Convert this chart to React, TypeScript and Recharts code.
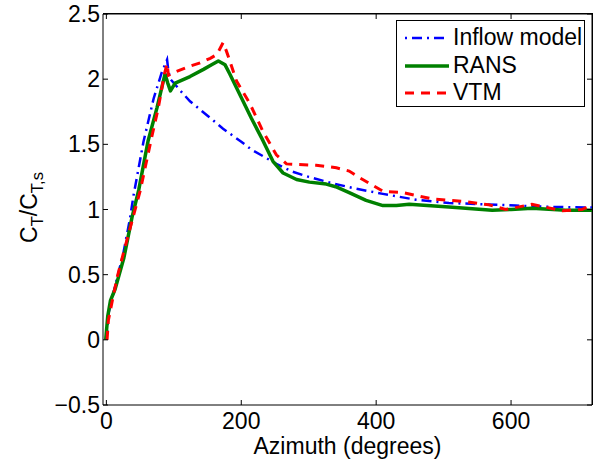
import React from 'react';
import { LineChart, Line, XAxis, YAxis, Legend, CartesianGrid } from 'recharts';

// ---- Data (azimuth in degrees, C_T / C_T,s) ----
const inflowX = [0, 3, 9, 25, 35, 40, 55, 70, 82, 90, 92, 95, 110, 124, 150, 173, 200, 215, 232, 252, 276, 300, 336, 370, 410, 459, 508, 560, 607, 660, 720];
const inflowY = [0, 0.2, 0.33, 0.66, 0.93, 1.1, 1.52, 1.85, 2.05, 2.15, 2.06, 2.0, 1.91, 1.83, 1.72, 1.62, 1.52, 1.46, 1.41, 1.35, 1.29, 1.25, 1.2, 1.16, 1.12, 1.075, 1.05, 1.04, 1.03, 1.02, 1.015];

const ransX = [-1, 2, 6, 13, 26, 38, 48, 62, 75, 87, 91, 95, 102, 124, 144, 156, 166, 176, 183, 198, 215, 232, 247, 262, 282, 301, 326, 340, 360, 385, 410, 430, 449, 508, 572, 600, 631, 681, 720];
const ransY = [0, 0.18, 0.3, 0.39, 0.63, 0.94, 1.15, 1.53, 1.78, 2.04, 1.97, 1.91, 1.97, 2.02, 2.075, 2.11, 2.14, 2.11, 2.04, 1.88, 1.7, 1.53, 1.37, 1.28, 1.23, 1.21, 1.195, 1.175, 1.13, 1.07, 1.03, 1.03, 1.04, 1.02, 0.995, 1.0, 1.01, 0.995, 0.995];

const vtmX = [1, 3, 8, 16, 26, 38, 50, 67, 77, 86, 90, 92, 104, 124, 139, 154, 164, 173, 178, 183, 193, 213, 232, 252, 267, 285, 311, 341, 360, 375, 410, 439, 484, 533, 567, 592, 631, 676, 705, 720];
const vtmY = [0, 0.15, 0.28, 0.48, 0.68, 0.91, 1.14, 1.55, 1.78, 2.04, 2.12, 2.03, 2.06, 2.1, 2.125, 2.16, 2.19, 2.28, 2.215, 2.14, 1.985, 1.81, 1.6, 1.42, 1.35, 1.345, 1.34, 1.32, 1.295, 1.245, 1.14, 1.13, 1.08, 1.06, 1.036, 1.0, 1.04, 0.99, 1.0, 1.036];

const xTicks = [0, 200, 400, 600];
const yTicks = [-0.5, 0, 0.5, 1, 1.5, 2, 2.5];
const xDomain = [-5, 720];
const yDomain = [-0.5, 2.5];

const seriesNames = ['Inflow model', 'RANS', 'VTM'];

const toPoints = (xs: number[], ys: number[]) => xs.map((x, i) => ({ x, y: ys[i] }));
const inflowData = toPoints(inflowX, inflowY);
const ransData = toPoints(ransX, ransY);
const vtmData = toPoints(vtmX, vtmY);

// ---- Layout / styles ----
const CHART_W = 593;
const CHART_H = 466;
const MARGIN = { top: 14, right: 1, bottom: 0, left: 0 };
const YAXIS_W = 103;
const XAXIS_H = 61;
const PLOT_TOP = MARGIN.top;
const PLOT_RIGHT = CHART_W - MARGIN.right;
const PLOT_LEFT = MARGIN.left + YAXIS_W;
const PLOT_BOTTOM = CHART_H - MARGIN.bottom - XAXIS_H;

const FONT = '"Liberation Sans", Arial, Helvetica, sans-serif';
const FS = 23;
const TICK = 5;

const styles = [
  { color: '#0000ff', width: 2.5, dash: '10 5 2 5', offset: 15 },
  { color: '#008000', width: 3.5, dash: undefined as string | undefined, offset: 0 },
  { color: '#ff0000', width: 3, dash: '9 7', offset: 0 },
];

const fmtY = (v: number) => (v < 0 ? '\u2212' + String(Math.abs(v)) : String(v));

const BottomTick = (props: any) => {
  const { x, y, payload } = props;
  return (
    <g>
      <line x1={x} y1={y} x2={x} y2={y - TICK} stroke="#000" strokeWidth={1} />
      <line x1={x} y1={PLOT_TOP} x2={x} y2={PLOT_TOP + TICK} stroke="#000" strokeWidth={1} />
      <text x={x} y={y + 24} textAnchor="middle" fontFamily={FONT} fontSize={FS} fill="#000">
        {payload.value}
      </text>
    </g>
  );
};

const LeftTick = (props: any) => {
  const { x, y, payload } = props;
  return (
    <g>
      <line x1={x} y1={y} x2={x + TICK} y2={y} stroke="#000" strokeWidth={1} />
      <line x1={PLOT_RIGHT} y1={y} x2={PLOT_RIGHT - TICK} y2={y} stroke="#000" strokeWidth={1} />
      <text x={x - 3} y={y + 8} textAnchor="end" fontFamily={FONT} fontSize={FS} fill="#000">
        {fmtY(payload.value)}
      </text>
    </g>
  );
};

const XLabel = (props: any) => {
  const vb = props.viewBox || { x: 0, y: 0, width: 0, height: 0 };
  return (
    <text x={vb.x + vb.width / 2} y={vb.y + 49} textAnchor="middle" fontFamily={FONT} fontSize={FS} fill="#000">
      Azimuth (degrees)
    </text>
  );
};

const YLabel = (props: any) => {
  const vb = props.viewBox || { x: 0, y: 0, width: 0, height: 0 };
  const cx = vb.x + 37;
  const cy = vb.y + vb.height / 2 - 2;
  const sub = 16.5;
  return (
    <text
      x={cx}
      y={cy}
      textAnchor="middle"
      transform={`rotate(-90, ${cx}, ${cy})`}
      fontFamily={FONT}
      fontSize={FS}
      fill="#000"
    >
      C
      <tspan dy={6} fontSize={sub}>T</tspan>
      <tspan dy={-6}>/C</tspan>
      <tspan dy={6} fontSize={sub}>T,s</tspan>
    </text>
  );
};

const LegendBox = () => (
  <div
    style={{
      width: 187,
      height: 85,
      border: '1px solid #000',
      background: '#fff',
      fontFamily: FONT,
      fontSize: FS,
      color: '#000',
      boxSizing: 'content-box',
      position: 'relative',
    }}
  >
    {seriesNames.map((name, i) => (
      <div
        key={name}
        style={{ position: 'absolute', left: 0, top: 3 + i * 27.5, height: 27, display: 'flex', alignItems: 'center', whiteSpace: 'nowrap' }}
      >
        <svg width={52} height={27} style={{ display: 'block' }}>
          <line
            x1={8}
            y1={14}
            x2={52}
            y2={14}
            stroke={styles[i].color}
            strokeWidth={styles[i].width}
            strokeDasharray={styles[i].dash}
            strokeDashoffset={styles[i].offset}
          />
        </svg>
        <span style={{ marginLeft: 4, lineHeight: '27px' }}>{name}</span>
      </div>
    ))}
  </div>
);

export default function App() {
  return (
    <div style={{ position: 'absolute', left: 0, top: 0, width: CHART_W, height: CHART_H, background: '#fff' }}>
      <LineChart width={CHART_W} height={CHART_H} margin={MARGIN}>
        <CartesianGrid
          xAxisId="b"
          yAxisId="l"
          stroke="#000"
          strokeWidth={1}
          horizontalCoordinatesGenerator={(p: any) => [p.offset.top]}
          verticalCoordinatesGenerator={(p: any) => [p.offset.left + p.offset.width]}
        />
        <XAxis
          xAxisId="b"
          dataKey="x"
          type="number"
          domain={xDomain}
          ticks={xTicks}
          allowDataOverflow
          orientation="bottom"
          height={XAXIS_H}
          tickSize={0}
          tickMargin={0}
          tickLine={false}
          axisLine={{ stroke: '#000', strokeWidth: 1 }}
          tick={<BottomTick />}
          interval={0}
          label={(p: any) => <XLabel {...p} />}
        />
        <YAxis
          yAxisId="l"
          type="number"
          domain={yDomain}
          ticks={yTicks}
          allowDataOverflow
          orientation="left"
          width={YAXIS_W}
          tickSize={0}
          tickMargin={0}
          tickLine={false}
          axisLine={{ stroke: '#000', strokeWidth: 1 }}
          tick={<LeftTick />}
          interval={0}
          label={(p: any) => <YLabel {...p} />}
        />
        <Line
          xAxisId="b"
          yAxisId="l"
          data={inflowData}
          dataKey="y"
          name={seriesNames[0]}
          type="linear"
          stroke={styles[0].color}
          strokeWidth={styles[0].width}
          strokeDasharray={styles[0].dash}
          dot={false}
          activeDot={false}
          isAnimationActive={false}
        />
        <Line
          xAxisId="b"
          yAxisId="l"
          data={ransData}
          dataKey="y"
          name={seriesNames[1]}
          type="linear"
          stroke={styles[1].color}
          strokeWidth={styles[1].width}
          strokeLinejoin="round"
          dot={false}
          activeDot={false}
          isAnimationActive={false}
        />
        <Line
          xAxisId="b"
          yAxisId="l"
          data={vtmData}
          dataKey="y"
          name={seriesNames[2]}
          type="linear"
          stroke={styles[2].color}
          strokeWidth={styles[2].width}
          strokeDasharray={styles[2].dash}
          dot={false}
          activeDot={false}
          isAnimationActive={false}
        />
        <Legend
          layout="horizontal"
          verticalAlign="middle"
          align="center"
          content={() => <LegendBox />}
          wrapperStyle={{ position: 'absolute', top: 20, left: 396, width: 189, height: 87 }}
        />
      </LineChart>
      {/* axes frame (top and right edges) as an HTML box */}
      <div
        style={{
          position: 'absolute',
          left: PLOT_LEFT,
          top: PLOT_TOP - 1,
          width: PLOT_RIGHT - PLOT_LEFT + 1,
          height: PLOT_BOTTOM - PLOT_TOP + 1,
          borderTop: '1px solid #000',
          borderRight: '1px solid #000',
          boxSizing: 'border-box',
          pointerEvents: 'none',
        }}
      />
    </div>
  );
}
